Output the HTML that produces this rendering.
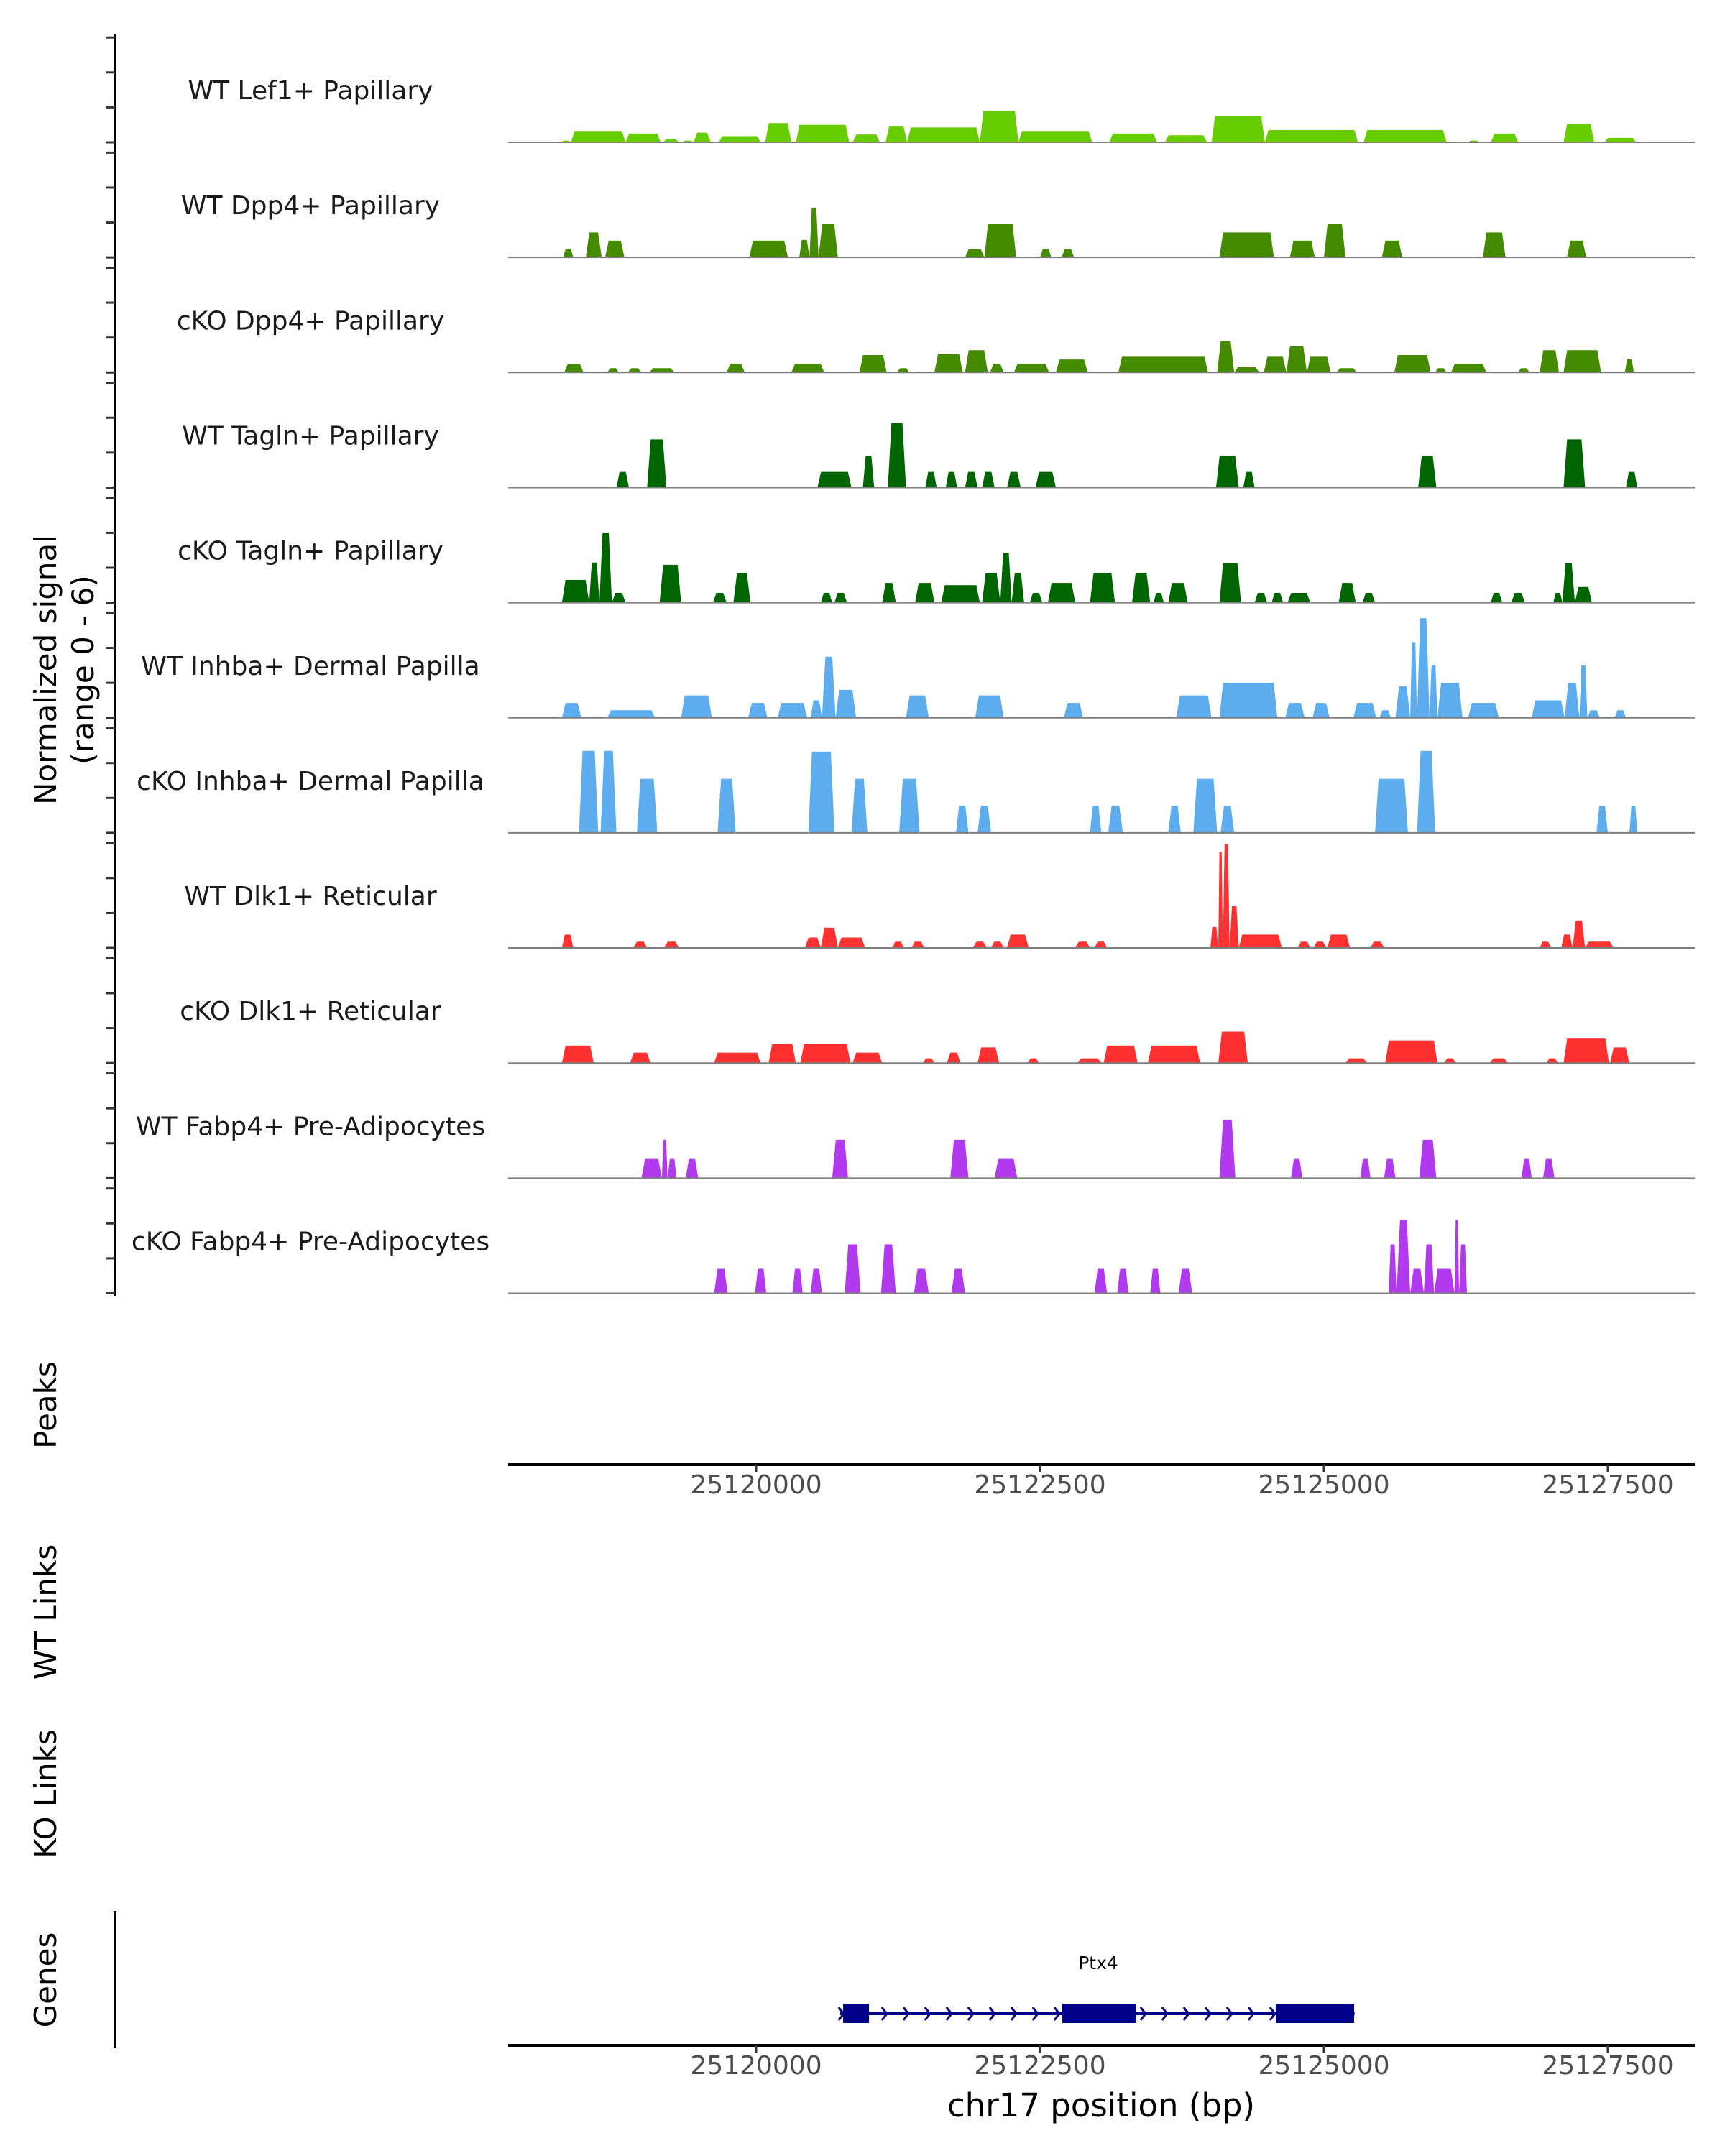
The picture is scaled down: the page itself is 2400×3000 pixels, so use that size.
<!DOCTYPE html>
<html><head><meta charset="utf-8"><style>
html,body{margin:0;padding:0;background:#fff;}
svg{display:block;font-family:"DejaVu Sans","Liberation Sans",sans-serif;}
</style></head><body>
<svg id="fig" width="2400" height="3000" viewBox="0 0 2400 3000" xmlns="http://www.w3.org/2000/svg"></svg>
<script>
// ---- data ----
const regionStartBp = 25117770; // offsets below are bp relative to this
const trackNames = ["WT Lef1+ Papillary","WT Dpp4+ Papillary","cKO Dpp4+ Papillary","WT Tagln+ Papillary","cKO Tagln+ Papillary","WT Inhba+ Dermal Papilla","cKO Inhba+ Dermal Papilla","WT Dlk1+ Reticular","cKO Dlk1+ Reticular","WT Fabp4+ Pre-Adipocytes","cKO Fabp4+ Pre-Adipocytes"];
const trackColors = ["#66cd00","#458b00","#458b00","#006400","#006400","#5cacee","#5cacee","#ff3030","#ff3030","#b23aee","#b23aee"];
// each entry: [startOffsetBp, endOffsetBp, signal]
const sigLef1WT = [[510,600,0.1],[600,1080,0.65],[1080,1390,0.5],[1410,1550,0.2],[1580,1680,0.1],[1680,1830,0.55],[1900,2270,0.35],[2310,2540,1.1],[2580,3050,1.0],[3080,3320,0.45],[3370,3560,0.9],[3560,4200,0.85],[4200,4540,1.8],[4540,5190,0.65],[5340,5760,0.5],[5830,6200,0.4],[6240,6710,1.5],[6710,7530,0.7],[7580,8310,0.7],[8500,8600,0.1],[8700,8940,0.5],[9340,9610,1.05],[9700,9980,0.25]];
const sigDpp4WT = [[530,620,0.48],[730,870,1.43],[900,1070,0.96],[2170,2510,0.96],[2610,2700,1.0],[2700,2780,2.85],[2780,2950,1.9],[4070,4240,0.48],[4240,4520,1.9],[4730,4830,0.48],[4920,5030,0.48],[6310,6790,1.43],[6930,7150,0.96],[7230,7420,1.9],[7740,7920,0.96],[8630,8830,1.43],[9370,9540,0.96]];
const sigDpp4KO = [[540,710,0.5],[920,1020,0.25],[1100,1220,0.25],[1290,1510,0.25],[1970,2130,0.5],[2540,2830,0.5],[3140,3380,1.0],[3470,3580,0.25],[3800,4050,1.05],[4070,4270,1.28],[4290,4410,0.5],[4500,4810,0.5],[4870,5150,0.75],[5420,6210,0.9],[6290,6440,1.8],[6440,6660,0.3],[6700,6900,0.9],[6900,7080,1.5],[7080,7290,0.9],[7340,7520,0.25],[7850,8170,1.0],[8210,8310,0.25],[8350,8660,0.5],[8940,9040,0.25],[9130,9300,1.28],[9340,9670,1.28],[9880,9960,0.77]];
const sigTaglnWT = [[1000,1110,0.9],[1270,1440,2.76],[2770,3070,0.9],[3170,3270,1.83],[3390,3550,3.7],[3720,3820,0.9],[3900,4000,0.9],[4070,4180,0.9],[4220,4330,0.9],[4440,4560,0.9],[4690,4870,0.9],[6280,6480,1.83],[6520,6620,0.9],[8060,8220,1.83],[9340,9530,2.76],[9890,9990,0.9]];
const sigTaglnKO = [[520,760,1.3],[760,850,2.3],[850,960,4.0],[960,1080,0.56],[1380,1570,2.17],[1850,1970,0.56],[2030,2180,1.7],[2800,2900,0.56],[2920,3030,0.56],[3340,3460,1.13],[3630,3800,1.13],[3860,4200,1.0],[4220,4380,1.7],[4380,4480,2.85],[4480,4590,1.7],[4640,4750,0.56],[4800,5040,1.13],[5170,5390,1.7],[5540,5700,1.7],[5730,5820,0.56],[5860,6030,1.13],[6310,6500,2.25],[6620,6730,0.56],[6770,6870,0.56],[6910,7110,0.56],[7360,7510,1.13],[7570,7680,0.56],[8700,8800,0.56],[8880,9000,0.56],[9250,9330,0.56],[9330,9440,2.25],[9440,9590,0.9]];
const sigInhbaWT = [[520,690,0.85],[920,1340,0.43],[1570,1840,1.28],[2160,2330,0.85],[2420,2680,0.85],[2710,2810,1.0],[2810,2930,3.5],[2930,3110,1.6],[3550,3750,1.28],[4160,4410,1.28],[4940,5110,0.85],[5930,6240,1.28],[6310,6820,2.0],[6890,7060,0.85],[7130,7280,0.85],[7490,7690,0.85],[7720,7820,0.43],[7860,7990,1.8],[7990,8050,4.3],[8050,8160,5.7],[8160,8230,3.0],[8230,8450,2.0],[8500,8770,0.85],[9060,9350,1.0],[9350,9480,2.0],[9480,9550,3.0],[9550,9660,0.43],[9790,9890,0.43]];
const sigInhbaKO = [[670,840,4.7],[860,1000,4.7],[1180,1360,3.1],[1890,2050,3.1],[2690,2920,4.65],[3070,3210,3.1],[3490,3670,3.1],[3990,4100,1.55],[4180,4300,1.55],[5170,5270,1.55],[5330,5460,1.55],[5860,5970,1.55],[6080,6290,3.1],[6320,6440,1.55],[7680,7970,3.1],[8050,8210,4.7],[9630,9730,1.55],[9920,9990,1.55]];
const sigDlk1WT = [[520,620,0.77],[1150,1270,0.36],[1420,1550,0.36],[2660,2800,0.6],[2800,2950,1.16],[2950,3190,0.6],[3430,3530,0.36],[3600,3710,0.36],[4140,4260,0.36],[4300,4410,0.36],[4440,4630,0.77],[5040,5170,0.36],[5210,5320,0.36],[6230,6300,1.2],[6300,6340,5.5],[6340,6400,5.94],[6400,6480,2.4],[6480,6860,0.77],[7000,7110,0.36],[7140,7250,0.36],[7260,7460,0.77],[7640,7760,0.36],[9130,9230,0.36],[9320,9420,0.77],[9420,9530,1.57],[9530,9780,0.36]];
const sigDlk1KO = [[520,800,1.0],[1120,1300,0.6],[1860,2270,0.6],[2340,2580,1.1],[2620,3060,1.1],[3080,3340,0.6],[3700,3800,0.27],[3910,4030,0.6],[4180,4370,0.9],[4620,4720,0.27],[5060,5270,0.27],[5290,5590,1.0],[5680,6140,1.0],[6300,6560,1.8],[7420,7610,0.27],[7770,8230,1.3],[8290,8390,0.27],[8690,8850,0.27],[9190,9290,0.27],[9340,9740,1.4],[9750,9920,0.9]];
const sigFabp4WT = [[1220,1400,1.1],[1400,1450,2.2],[1450,1530,1.1],[1610,1720,1.1],[2900,3040,2.2],[3940,4100,2.2],[4330,4530,1.1],[6310,6450,3.35],[6940,7040,1.1],[7550,7640,1.1],[7760,7860,1.1],[8070,8220,2.2],[8970,9060,1.1],[9160,9260,1.1]];
const sigFabp4KO = [[1860,1980,1.4],[2220,2320,1.4],[2550,2640,1.4],[2710,2810,1.4],[3010,3150,2.8],[3330,3460,2.8],[3620,3750,1.4],[3950,4070,1.4],[5210,5320,1.4],[5410,5510,1.4],[5700,5790,1.4],[5950,6070,1.4],[7800,7870,2.8],[7870,7990,4.2],[7990,8110,1.4],[8110,8200,2.8],[8200,8380,1.4],[8380,8420,4.2],[8420,8490,2.8]];
const allSignals = [sigLef1WT,sigDpp4WT,sigDpp4KO,sigTaglnWT,sigTaglnKO,sigInhbaWT,sigInhbaKO,sigDlk1WT,sigDlk1KO,sigFabp4WT,sigFabp4KO];
const xTicks = [25120000,25122500,25125000,25127500];
const yTickValues = [0,2,4,6];
const geneName = "Ptx4";
const geneStartBp = 25120740, geneEndBp = 25125270;
const exonStarts = [25120766,25122696,25124576];
const exonEnds = [25120994,25123348,25125266];

// ---- scales ----
const NS="http://www.w3.org/2000/svg";
const svg=document.getElementById('fig');
function xPos(bp){return 1052+(bp-25120000)*0.158;}
const plotL=707, plotR=2358;
const unitPx=24.3;
function baseY(i){return 198+i*160.15;}
function yPos(i,v){return baseY(i)-v*unitPx;}
function mk(tag,attrs,parent){const e=document.createElementNS(NS,tag);for(const k in attrs)e.setAttribute(k,attrs[k]);(parent||svg).appendChild(e);return e;}
function txt(s,attrs,parent){const e=mk('text',attrs,parent);e.textContent=s;return e;}

let ax=mk('line',{x1:160,y1:48,x2:160,y2:1804,stroke:'#000','stroke-width':3.5});



let yt=txt('Normalized signal',{x:0,y:0,'font-size':42,'text-anchor':'middle',fill:'#000',transform:'translate(78,932) rotate(-90)'});


let yt2=txt('(range 0 - 6)',{x:0,y:0,'font-size':42,'text-anchor':'middle',fill:'#000',transform:'translate(130,932) rotate(-90)'});



allSignals.forEach((sig,i)=>{
  const g=mk('g',{});
  
  
  yTickValues.forEach(v=>{
    const t=mk('line',{x1:147,x2:160,y1:yPos(i,v),y2:yPos(i,v),stroke:'#333','stroke-width':3},g);
    
    
  });
  const lab=txt(trackNames[i],{x:432,y:baseY(i)-60,'font-size':36,'text-anchor':'middle',fill:'#1a1a1a'},g);
  
  
  sig.forEach(p=>{
    const x1=xPos(regionStartBp+p[0]), x2=xPos(regionStartBp+p[1]);
    const yb=baseY(i), yt=yPos(i,p[2]);
    const s=Math.min(5,(x2-x1)*0.25);
    const poly=mk('polygon',{points:`${x1},${yb} ${x1+s},${yt} ${x2-s},${yt} ${x2},${yb}`,fill:trackColors[i]},g);
    
    
  });
  const bl=mk('line',{x1:plotL,x2:plotR,y1:baseY(i),y2:baseY(i),stroke:'#7f7f7f','stroke-width':2},g);
  
  
});

[['Peaks',1955,'peaks-label'],['WT Links',2243,'wt-links-label'],['KO Links',2496,'ko-links-label'],['Genes',2755,'genes-label']].forEach(d=>{
  const t=txt(d[0],{x:0,y:0,'font-size':42,'text-anchor':'middle',fill:'#000',transform:`translate(78,${d[1]}) rotate(-90)`});
  
  
});

function xAxis(y,name){
  const g=mk('g',{});
  
  
  mk('line',{x1:plotL,x2:plotR,y1:y,y2:y,stroke:'#000','stroke-width':4},g);
  xTicks.forEach(t=>{
    mk('line',{x1:xPos(t),x2:xPos(t),y1:y,y2:y+10,stroke:'#333','stroke-width':3},g);
    const l=txt(String(t),{x:xPos(t),y:y+40,'font-size':36,'text-anchor':'middle',fill:'#4d4d4d'},g);
    
    
  });
}
xAxis(2038,'peaks-x-axis');
xAxis(2846,'genes-x-axis');
let xt=txt('chr17 position (bp)',{x:1532,y:2945,'font-size':45,'text-anchor':'middle',fill:'#000'});



let ga=mk('line',{x1:160,y1:2659,x2:160,y2:2850,stroke:'#000','stroke-width':3.5});



const gg=mk('g',{});


const gy=2802;
mk('line',{x1:xPos(geneStartBp),x2:xPos(geneEndBp),y1:gy,y2:gy,stroke:'#00008b','stroke-width':4},gg);
for(let x=xPos(geneStartBp)+2;x<xPos(geneEndBp);x+=30){
  const c=mk('polyline',{points:`${x-4},${gy-9} ${x+3},${gy} ${x-4},${gy+9}`,fill:'none',stroke:'#00008b','stroke-width':3},gg);
  
  
}
exonStarts.forEach((s,k)=>{
  const r=mk('rect',{x:xPos(s),y:2788,width:xPos(exonEnds[k])-xPos(s),height:27,fill:'#00008b'},gg);
  
  
});
let gl=txt(geneName,{x:1528,y:2740,'font-size':25,'text-anchor':'middle',fill:'#000'},gg);


</script>
</body></html>
